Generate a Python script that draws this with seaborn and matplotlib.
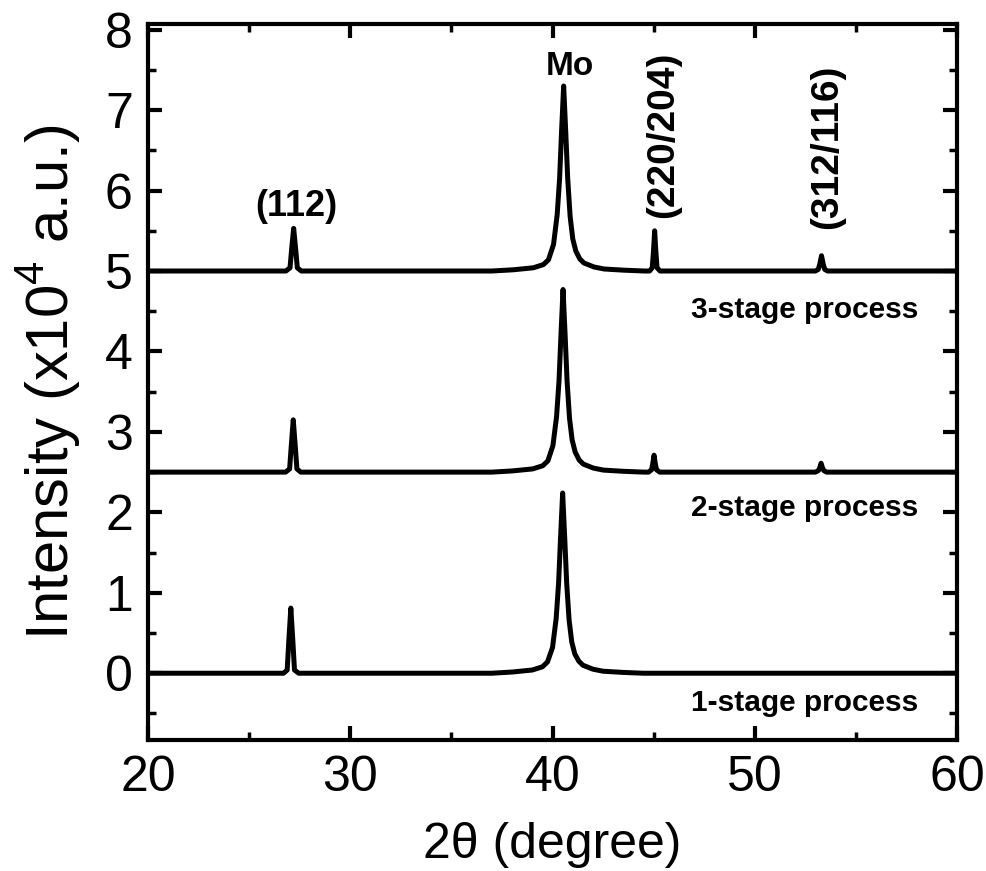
import matplotlib
matplotlib.use("Agg")
import matplotlib.pyplot as plt
from matplotlib.ticker import MultipleLocator
import numpy as np
import pandas as pd
import seaborn as sns

# XRD patterns of CIGS films grown by 1-, 2- and 3-stage processes
# (intensity in units of 1e4 counts, each pattern shifted vertically)
two_theta_1 = [20.0, 26.7, 26.88, 26.96, 27.06, 27.16, 27.24, 27.45,
               37.0, 38.0, 39.0, 39.5, 39.75, 40.0, 40.18, 40.3, 40.4, 40.5,
               40.6, 40.7, 40.82, 40.95, 41.1, 41.3, 41.5, 42.0, 42.5, 43.5,
               44.5, 60.0]
intensity_1 = [0.0, 0.0, 0.04, 0.40, 0.81, 0.40, 0.04, 0.0,
               0.0, 0.015, 0.04, 0.08, 0.14, 0.32, 0.68, 1.12, 1.70, 2.24,
               1.70, 1.12, 0.66, 0.39, 0.24, 0.15, 0.10, 0.05, 0.025, 0.01,
               0.0, 0.0]

two_theta_2 = [20.0, 26.8, 27.0, 27.08, 27.18, 27.28, 27.36, 27.55,
               37.0, 38.02, 39.02, 39.52, 39.77, 40.02, 40.2, 40.32, 40.42,
               40.52, 40.62, 40.72, 40.84, 40.97, 41.12, 41.32, 41.52, 42.02,
               42.52, 43.52, 44.52,
               44.75, 44.9, 44.96, 45.02, 45.08, 45.14, 45.3,
               53.0, 53.15, 53.22, 53.28, 53.34, 53.41, 53.55, 60.0]
intensity_2 = [0.0, 0.0, 0.04, 0.32, 0.65, 0.32, 0.04, 0.0,
               0.0, 0.015, 0.04, 0.08, 0.14, 0.33, 0.69, 1.13, 1.72,
               2.27, 1.72, 1.13, 0.67, 0.40, 0.25, 0.15, 0.10, 0.05,
               0.025, 0.01, 0.0,
               0.0, 0.03, 0.11, 0.21, 0.11, 0.03, 0.0,
               0.0, 0.02, 0.06, 0.11, 0.06, 0.02, 0.0, 0.0]

two_theta_3 = [20.0, 26.82, 27.02, 27.1, 27.2, 27.3, 27.38, 27.58,
               37.0, 38.05, 39.05, 39.55, 39.8, 40.05, 40.23, 40.35, 40.45,
               40.55, 40.65, 40.75, 40.87, 41.0, 41.15, 41.35, 41.55, 42.05,
               42.55, 43.55, 44.55,
               44.8, 44.93, 44.99, 45.05, 45.11, 45.17, 45.32,
               53.0, 53.14, 53.22, 53.3, 53.38, 53.46, 53.6, 60.0]
intensity_3 = [0.0, 0.0, 0.04, 0.27, 0.53, 0.27, 0.04, 0.0,
               0.0, 0.015, 0.04, 0.08, 0.14, 0.33, 0.70, 1.15, 1.75,
               2.30, 1.75, 1.15, 0.68, 0.40, 0.25, 0.15, 0.10, 0.05,
               0.025, 0.01, 0.0,
               0.0, 0.04, 0.24, 0.50, 0.24, 0.04, 0.0,
               0.0, 0.02, 0.09, 0.19, 0.09, 0.02, 0.0, 0.0]

offsets = [0.0, 2.5, 5.0]
process_labels = ["1-stage process", "2-stage process", "3-stage process"]
label_y = [-0.37, 2.06, 4.52]

peak_labels = ["(112)", "Mo", "(220/204)", "(312/116)"]
peak_label_x = [27.33, 40.84, 45.45, 53.56]
peak_label_y = [5.80, 7.54, 6.69, 6.54]
peak_label_rot = [0, 0, 90, 90]
peak_label_size = [26, 24, 28, 28]

frames = []
for tt, inten, off, name in zip([two_theta_1, two_theta_2, two_theta_3],
                                [intensity_1, intensity_2, intensity_3],
                                offsets, process_labels):
    frames.append(pd.DataFrame({"two_theta": tt,
                                "intensity": np.asarray(inten) + off,
                                "process": name}))
data = pd.concat(frames, ignore_index=True)

sns.set_style("ticks")
plt.rcParams["font.family"] = ["Liberation Sans", "DejaVu Sans"]
plt.rcParams["mathtext.fontset"] = "custom"
plt.rcParams["mathtext.rm"] = "Liberation Sans"
for key in ["text.color", "axes.labelcolor", "xtick.color", "ytick.color",
            "axes.edgecolor"]:
    plt.rcParams[key] = "black"

fig = plt.figure(figsize=(9.87, 8.71), dpi=100)
ax = fig.add_axes([0.150, 0.1504, 0.8196, 0.822])

sns.lineplot(data=data, x="two_theta", y="intensity", units="process",
             estimator=None, sort=False, color="black", linewidth=3.6,
             ax=ax, legend=False)

ax.set_xlim(20, 60)
ax.set_ylim(-0.83, 8.07)
ax.xaxis.set_major_locator(MultipleLocator(10))
ax.xaxis.set_minor_locator(MultipleLocator(5))
ax.yaxis.set_major_locator(MultipleLocator(1))
ax.yaxis.set_minor_locator(MultipleLocator(0.5))

for side in ax.spines.values():
    side.set_linewidth(3.0)
    side.set_color("black")

ax.tick_params(which="both", direction="in", top=True, right=True,
               colors="black")
ax.tick_params(which="major", length=10, width=3.0, labelsize=36, pad=11)
ax.tick_params(which="minor", length=6, width=2.5)

ax.set_xlabel("2\u03b8 (degree)", fontsize=36, labelpad=15, color="black")
ax.set_ylabel("Intensity (x10$^4$ a.u.)", fontsize=43, labelpad=16,
              color="black")

for txt, xx, yy, rot, fs in zip(peak_labels, peak_label_x, peak_label_y,
                                peak_label_rot, peak_label_size):
    ax.text(xx, yy, txt, fontsize=fs, fontweight="bold", rotation=rot,
            ha="center", va="center", color="black")

for txt, yy in zip(process_labels, label_y):
    ax.text(58.1, yy, txt, fontsize=21.5, fontweight="bold",
            ha="right", va="center", color="black")

fig.savefig("out.png", dpi=100)
